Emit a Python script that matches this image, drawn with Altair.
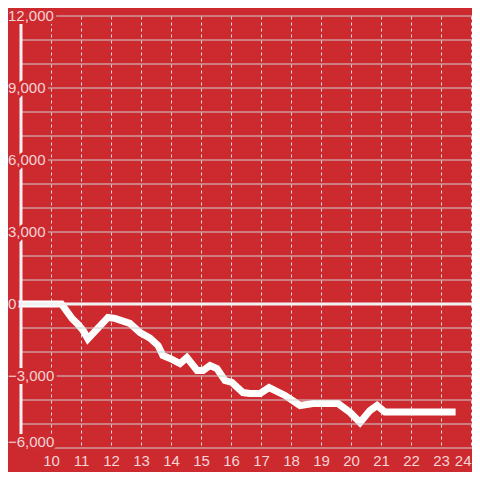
import altair as alt
import pandas as pd

# data
x_vals = [9.0, 10.35, 10.7, 10.87, 11.07, 11.23, 11.9, 12.13, 12.63, 12.97, 13.3, 13.57,
          13.73, 13.97, 14.3, 14.53, 14.87, 15.07, 15.3, 15.53, 15.8, 16.03, 16.4, 16.63,
          16.97, 17.27, 17.8, 18.3, 18.73, 19.57, 19.97, 20.3, 20.63, 20.87, 21.13, 23.37]
y_vals = [0, 0, -600, -810, -1100, -1450, -560, -600, -810, -1190, -1420, -1730,
          -2150, -2270, -2480, -2230, -2770, -2770, -2560, -2690, -3190, -3270, -3690, -3730,
          -3730, -3480, -3810, -4230, -4150, -4150, -4520, -4940, -4440, -4230, -4500, -4500]
x_ticks = list(range(10, 25))
grid_vals = list(range(-6000, 13000, 1000))
label_vals = [-6000, -3000, 0, 3000, 6000, 9000, 12000]

RED = "#cd2a30"
XMIN, XMAX = 8.567, 24.033

df = pd.DataFrame({"x": x_vals, "y": y_vals})
grid_df = pd.DataFrame({"v": grid_vals})
lab_df = pd.DataFrame({"v": label_vals})

xs = alt.Scale(domain=[XMIN, XMAX], nice=False, zero=False)
ys = alt.Scale(domain=[-6000, 12000], nice=False, zero=False)

xaxis = alt.Axis(values=x_ticks, grid=True, gridDash=[3, 3], gridColor="#dddddd",
                 gridWidth=1, domain=False, ticks=False, labelColor="#f5d4d5",
                 labelFontSize=15, labelFont="Liberation Sans", labelPadding=5,
                 title=None, format="d", labelFlush=3, labelOverlap=False)

line = alt.Chart(df).mark_line(color="#ffffff", strokeWidth=7, strokeCap="square",
                               strokeJoin="miter").encode(
    x=alt.X("x:Q", scale=xs, axis=xaxis),
    y=alt.Y("y:Q", scale=ys, axis=None),
)

hgrid = alt.Chart(grid_df).transform_calculate(
    x0="9", x1=str(XMAX)
).mark_rule(color="#cfcfcf", strokeWidth=1).encode(
    x=alt.X("x0:Q", scale=xs, axis=xaxis),
    x2="x1:Q",
    y=alt.Y("v:Q", scale=ys, axis=None),
)

zero = alt.Chart(grid_df).transform_filter("datum.v == 0").transform_calculate(
    x0=str(XMIN), x1=str(XMAX)
).mark_rule(color="#f2f2f2", strokeWidth=3).encode(
    x=alt.X("x0:Q", scale=xs, axis=xaxis), x2="x1:Q", y=alt.Y("v:Q", scale=ys, axis=None)
)

yline = alt.Chart(grid_df).transform_filter("datum.v == 0").transform_calculate(
    x0="9", y0="-6000", y1="11700"
).mark_rule(color="#f2f2f2", strokeWidth=3).encode(
    x=alt.X("x0:Q", scale=xs, axis=xaxis), y=alt.Y("y0:Q", scale=ys, axis=None), y2="y1:Q"
)

lab_base = alt.Chart(lab_df).transform_calculate(
    ypos="datum.v == -6000 ? -5730 : datum.v"
)

halo = lab_base.mark_text(
    align="left", baseline="middle", font="Liberation Sans", fontSize=15,
    fill=RED, stroke=RED, strokeWidth=6, strokeJoin="round"
).encode(x=alt.value(0), y=alt.Y("ypos:Q", scale=ys, axis=None),
         text=alt.Text("v:Q", format=","))

labels = lab_base.mark_text(
    align="left", baseline="middle", font="Liberation Sans", fontSize=15,
    color="#f5d4d5"
).encode(x=alt.value(0), y=alt.Y("ypos:Q", scale=ys, axis=None),
         text=alt.Text("v:Q", format=","))

chart = alt.layer(line, hgrid, zero, yline, halo, labels).properties(
    width=464, height=432,
    autosize=alt.AutoSizeParams(type="none"),
    padding={"left": 0, "top": 8, "right": 0, "bottom": 24},
    background=RED,
).configure_view(stroke=None).configure_axis(labelOverlap=False)

chart.save("out.html", embed_options={"renderer": "svg", "actions": False})
